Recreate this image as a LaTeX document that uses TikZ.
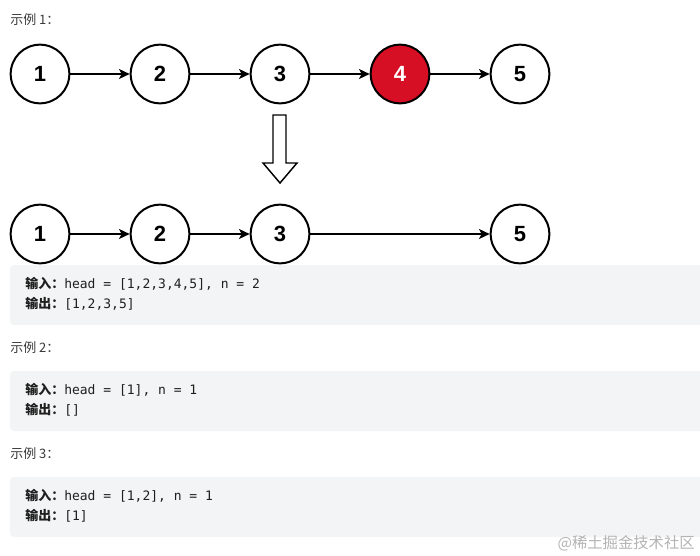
\documentclass[tikz,border=0pt]{standalone}
\usepackage{fontspec}
\setmainfont{Liberation Sans}
\newfontfamily\cjkf{Noto Sans CJK SC}
\newfontfamily\monof{DejaVu Sans Mono}
\usetikzlibrary{arrows.meta}
\definecolor{nodered}{HTML}{D70F24}
\definecolor{boxgray}{HTML}{F3F4F5}
\definecolor{headgray}{HTML}{3A3A3A}
\definecolor{txtdark}{HTML}{1F1F1F}
\definecolor{wmgray}{HTML}{B4B4B4}
\begin{document}
\begin{tikzpicture}[x=0.75pt,y=-0.75pt,
  lnode/.style={circle,draw=black,line width=1.5pt,minimum size=44pt,inner sep=0pt,
    font=\fontsize{16.5}{18}\selectfont\bfseries},
  rednode/.style={lnode,fill=nodered,text=white},
  link/.style={line width=1.1pt,-{Stealth[length=8pt,width=7.5pt,inset=2pt]}},
  codebox/.style={fill=boxgray,rounded corners=3pt},
  codeline/.style={anchor=west,inner sep=0pt,text=txtdark,font=\fontsize{9.75}{12}\selectfont},
  headline/.style={anchor=west,inner sep=0pt,text=headgray,font=\fontsize{9.75}{12}\selectfont}
]
\useasboundingbox (0,0) rectangle (700,556);
\fill[white] (0,0) rectangle (700,556);

% header 1
\node[headline] (h1) at (10,20) {\cjkf 示例 1：};

% top list
\node[lnode] (a1) at (40,74) {1};
\node[lnode] (a2) at (160,74) {2};
\node[lnode] (a3) at (280,74) {3};
\node[rednode] (a4) at (400,74) {4};
\node[lnode] (a5) at (520,74) {5};
\draw[link] (a1) -- (a2);
\draw[link] (a2) -- (a3);
\draw[link] (a3) -- (a4);
\draw[link] (a4) -- (a5);

% block arrow
\draw[line width=1.1pt,fill=white,line join=miter]
  (273,115) -- (286,115) -- (286,163) -- (297,163) -- (280,183) -- (263,163) -- (273,163) -- cycle;

% bottom list
\node[lnode] (b1) at (40,234) {1};
\node[lnode] (b2) at (160,234) {2};
\node[lnode] (b3) at (280,234) {3};
\node[lnode] (b5) at (520,234) {5};
\draw[link] (b1) -- (b2);
\draw[link] (b2) -- (b3);
\draw[link] (b3) -- (b5);

% box 1
\fill[codebox] (10,265) rectangle (705,325);
\node[codeline] (i1) at (25,284) {{\cjkf\bfseries 输入：}{\monof head = [1,2,3,4,5], n = 2}};
\node[codeline] (o1) at (25,304) {{\cjkf\bfseries 输出：}{\monof [1,2,3,5]}};

% example 2
\node[headline] (h2) at (10,348) {\cjkf 示例 2：};
\fill[codebox] (10,371) rectangle (705,431);
\node[codeline] (i2) at (25,390) {{\cjkf\bfseries 输入：}{\monof head = [1], n = 1}};
\node[codeline] (o2) at (25,410) {{\cjkf\bfseries 输出：}{\monof []}};

% example 3
\node[headline] (h3) at (10,454) {\cjkf 示例 3：};
\fill[codebox] (10,477) rectangle (705,537);
\node[codeline] (i3) at (25,496) {{\cjkf\bfseries 输入：}{\monof head = [1,2], n = 1}};
\node[codeline] (o3) at (25,516) {{\cjkf\bfseries 输出：}{\monof [1]}};

% watermark
\node[anchor=east,inner sep=0pt,text=wmgray,font=\fontsize{11.5}{13}\selectfont] (wm) at (695,543) {\cjkf @稀土掘金技术社区};
\end{tikzpicture}
\end{document}
